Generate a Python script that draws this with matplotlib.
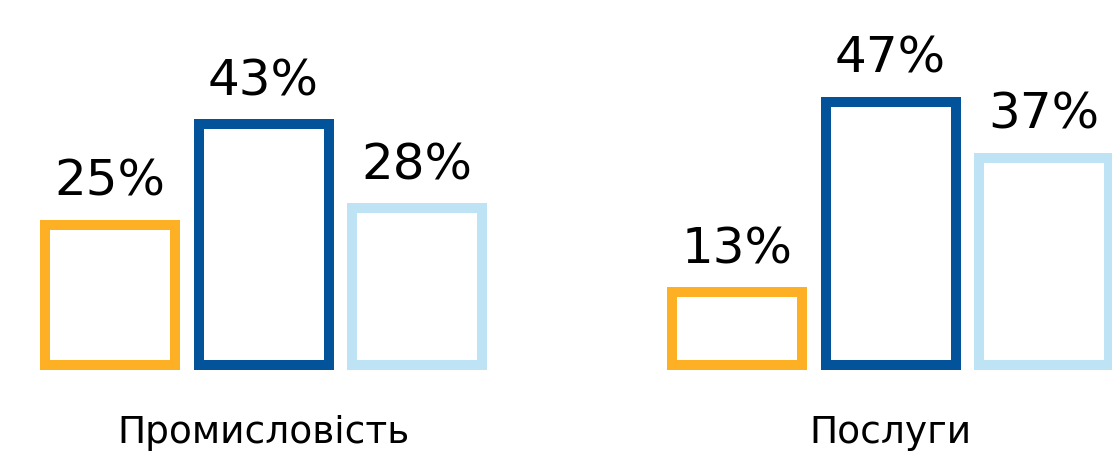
import matplotlib.pyplot as plt
import numpy as np

# data
categories = ['Промисловість', 'Послуги']
series_a = [25, 13]   # orange
series_b = [43, 47]   # dark blue
series_c = [28, 37]   # light blue
colors = ['#FEB024', '#03539B', '#BDE3F5']

plt.rcParams['font.family'] = ['DejaVu Sans']

fig = plt.figure(figsize=(11.12, 4.55), dpi=100)
ax = fig.add_axes([0, 0, 1, 1])

group_x = np.array([0.0, 4.085])
width = 0.847
offsets = [-1, 0, 1]

for series, off, col in zip([series_a, series_b, series_c], offsets, colors):
    xs = group_x + off
    ax.bar(xs, series, width=width, fill=False, edgecolor=col,
           linewidth=7.2, joinstyle='miter')
    for x, v in zip(xs, series):
        ax.annotate(f'{v}%', (x, v), xytext=(0, 21), textcoords='offset points',
                    ha='center', va='baseline', fontsize=36, color='black')

for x, name in zip(group_x, categories):
    ax.text(x, -14.0, name, ha='center', va='baseline', fontsize=27,
            color='black')

ax.set_xlim(-1.717, 5.528)
ax.set_ylim(-16.07, 65.18)
ax.axis('off')

fig.savefig('out.png', dpi=100, facecolor='white')
